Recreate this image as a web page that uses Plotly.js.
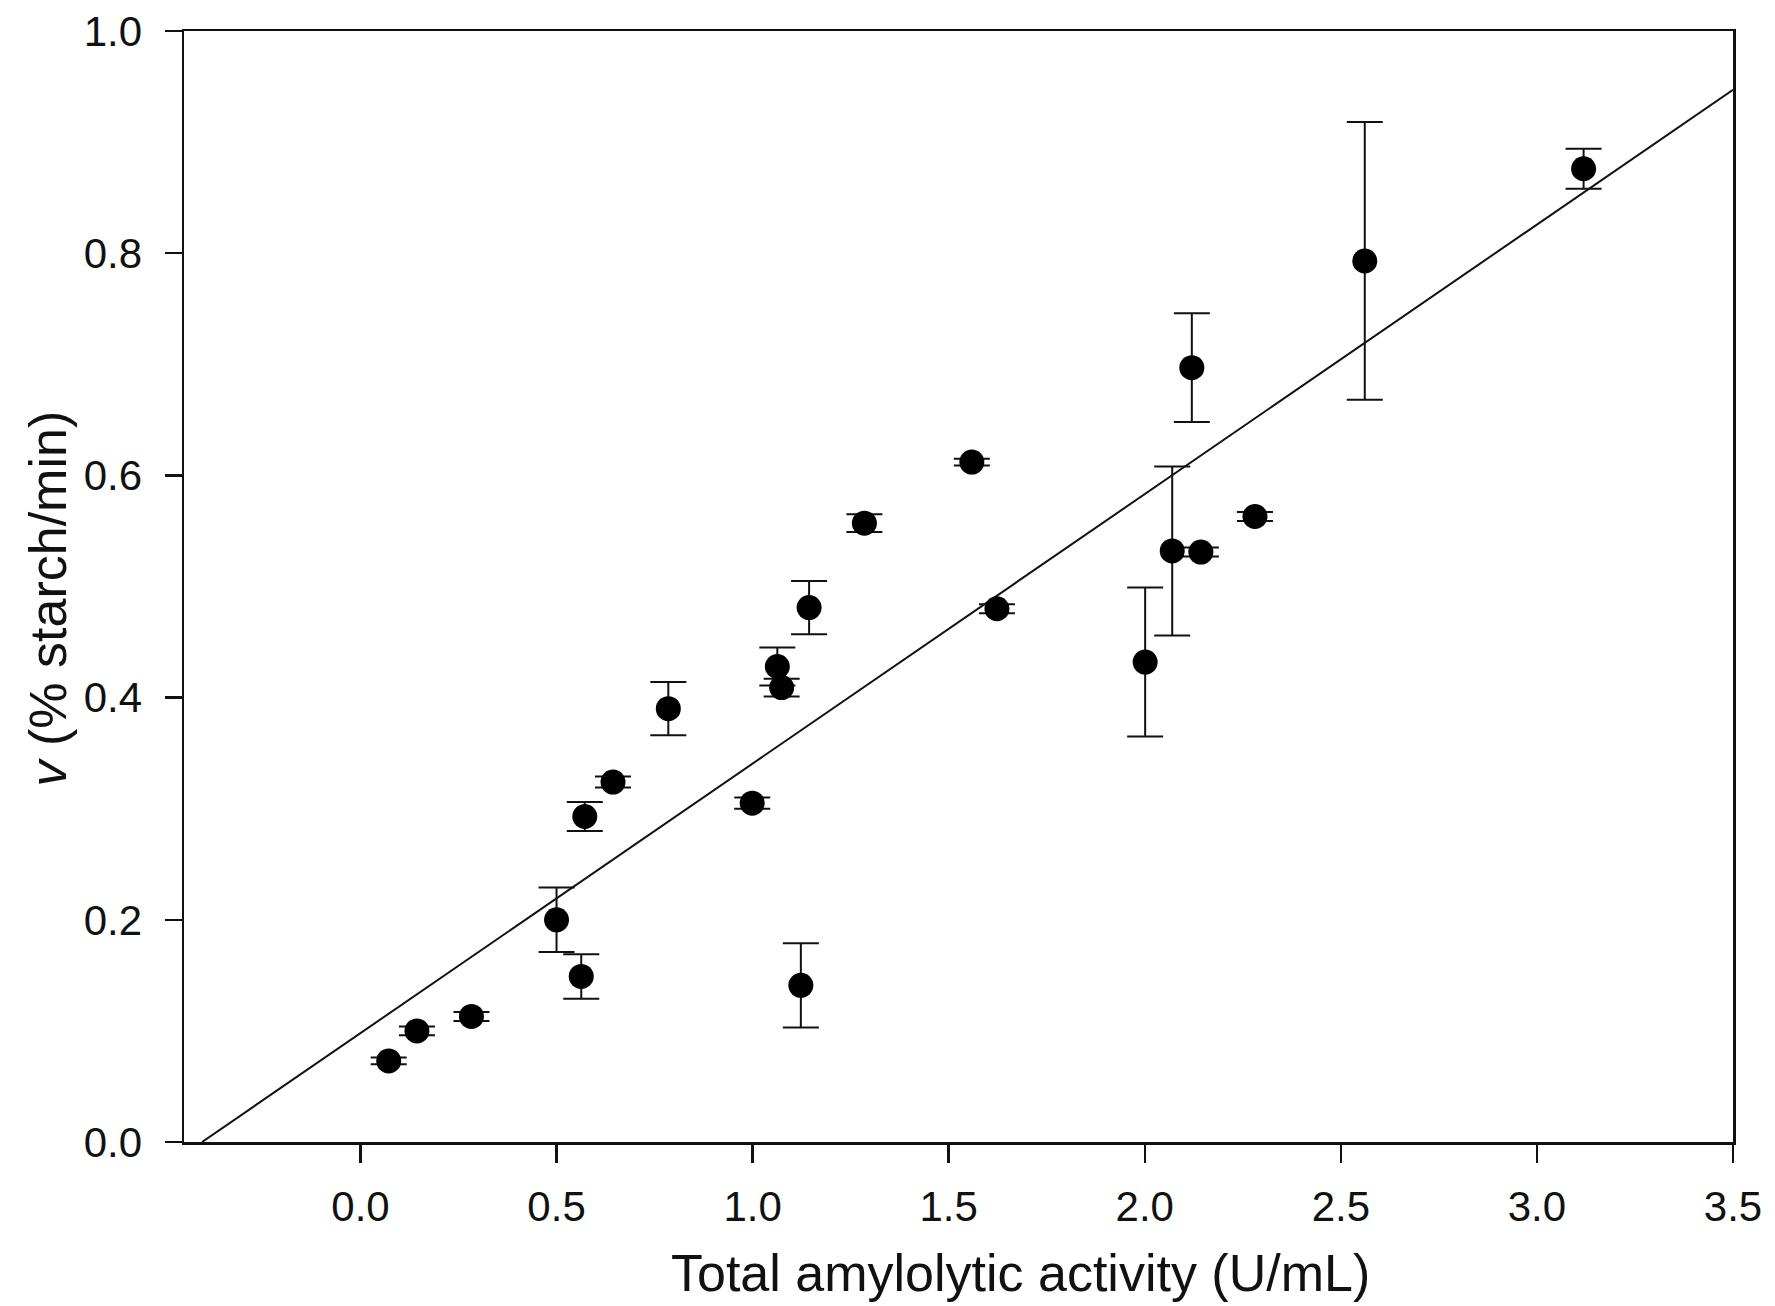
<!DOCTYPE html>
<html>
<head>
<meta charset="utf-8">
<script src="https://cdn.plot.ly/plotly-3.0.1.min.js"></script>
<style>html,body{margin:0;padding:0;background:#fff;}#chart{width:1775px;height:1306px;}</style>
</head>
<body>
<div id="chart"></div>
<script>
// Data
var activity = [0.072, 0.144, 0.283, 0.500, 0.563, 0.572, 0.644, 0.785, 0.999, 1.063, 1.074, 1.123, 1.144, 1.285, 1.559, 1.623, 2.001, 2.070, 2.120, 2.143, 2.281, 2.561, 3.119];
var rate     = [0.073, 0.100, 0.113, 0.200, 0.149, 0.293, 0.324, 0.390, 0.305, 0.428, 0.409, 0.141, 0.481, 0.557, 0.612, 0.480, 0.432, 0.532, 0.697, 0.531, 0.563, 0.793, 0.876];
var rateErr  = [0.003, 0.004, 0.004, 0.029, 0.020, 0.013, 0.005, 0.024, 0.005, 0.017, 0.008, 0.038, 0.024, 0.008, 0.003, 0.004, 0.067, 0.076, 0.049, 0.004, 0.004, 0.125, 0.018];
var xTicks = [0, 0.5, 1.0, 1.5, 2.0, 2.5, 3.0, 3.5];
var yTicks = [0, 0.2, 0.4, 0.6, 0.8, 1.0];
var fitSlope = 0.2426;
var fitIntercept = 0.098;
var xRange = [-0.45, 3.5];
var yRange = [0, 1.0];

var xStart = -fitIntercept / fitSlope;
var fitX = [xStart, xRange[1]];
var fitY = fitX.map(function (x) { return fitSlope * x + fitIntercept; });

var font = "Liberation Sans, Arial, Helvetica, sans-serif";

var traces = [
  {
    x: fitX, y: fitY, type: 'scatter', mode: 'lines',
    line: {color: '#111', width: 2}, hoverinfo: 'skip', cliponaxis: true
  },
  {
    x: activity, y: rate, type: 'scatter', mode: 'markers',
    marker: {color: '#000', size: 25, line: {width: 0}},
    error_y: {type: 'data', array: rateErr, visible: true, color: '#111', thickness: 2, width: 18},
    cliponaxis: false
  }
];

var layout = {
  width: 1775, height: 1306,
  paper_bgcolor: '#fff', plot_bgcolor: '#fff',
  showlegend: false,
  margin: {l: 184, r: 42, t: 31, b: 164, pad: 0},
  font: {family: font, color: '#111'},
  xaxis: {
    range: xRange, tickvals: xTicks, tickformat: '.1f',
    showgrid: false, zeroline: false,
    showline: true, linecolor: '#111', linewidth: 2.5, mirror: true,
    ticks: 'outside', ticklen: 18, tickwidth: 2.5, tickcolor: '#111',
    tickfont: {size: 42, family: font, color: '#111'},
    ticklabelstandoff: 8
  },
  yaxis: {
    range: yRange, tickvals: yTicks, tickformat: '.1f',
    showgrid: false, zeroline: false,
    showline: true, linecolor: '#111', linewidth: 2.5, mirror: true,
    ticks: 'outside', ticklen: 17, tickwidth: 2.5, tickcolor: '#111',
    tickfont: {size: 42, family: font, color: '#111'},
    ticklabelstandoff: 14
  },
  annotations: [
    {
      text: 'Total amylolytic activity (U/mL)', xref: 'paper', yref: 'paper',
      x: 0.540, y: -0.118, xanchor: 'center', yanchor: 'middle', showarrow: false,
      font: {size: 52, family: font, color: '#111'}
    },
    {
      text: '<i>v</i> (% starch/min)', xref: 'paper', yref: 'paper',
      x: -0.088, y: 0.489, xanchor: 'center', yanchor: 'middle', showarrow: false,
      textangle: -90,
      font: {size: 52, family: font, color: '#111'}
    }
  ]
};

Plotly.newPlot('chart', traces, layout, {staticPlot: true, displayModeBar: false});
</script>
</body>
</html>
